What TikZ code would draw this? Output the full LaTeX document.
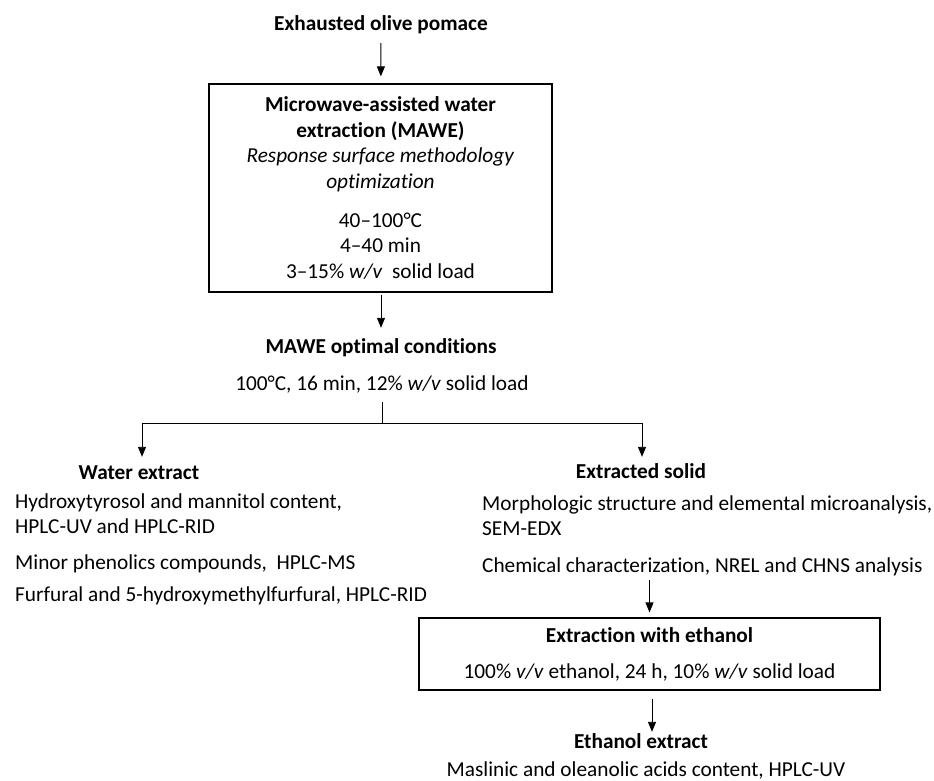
\documentclass[tikz,border=0pt]{standalone}
\usepackage{fontspec}
\setmainfont{Carlito}[Ligatures=CommonOff]
\usetikzlibrary{arrows.meta}
\begin{document}
\begin{tikzpicture}[x=1pt,y=-1pt,
  font=\fontsize{21.3}{25.5}\selectfont,
  txt/.style={inner sep=0pt, text height=15.5pt, text depth=4.5pt},
  hd/.style={txt, font=\fontsize{21.3}{25.5}\selectfont\bfseries},
  item/.style={txt, anchor=west},
  boxnode/.style={draw, line width=1.2pt, inner sep=0pt, align=center},
  arr/.style={line width=0.9pt, -{Triangle[length=10pt,width=8pt]}},
  ln/.style={line width=0.9pt}]
\useasboundingbox (0,0) rectangle (934,780);

% top
\node[hd] (top) at (381,25) {Exhausted olive pomace};
\node[boxnode, minimum width=343pt, minimum height=208pt] (box1) at (380.5,188)
  {\textbf{Microwave-assisted water}\\
   \textbf{extraction (MAWE)}\\
   \textit{Response surface methodology}\\
   \textit{optimization}\\[13.5pt]
   40–100°C\\
   4–40 min\\
   3–15\% \textit{w/v}\ \ solid load};
\node[hd] (opt) at (381,348) {MAWE optimal conditions};
\node[txt] (cond) at (382,385) {100°C, 16 min, 12\% \textit{w/v} solid load};

% split
\coordinate (J) at (382,423);
\coordinate (JL) at (142,423);
\coordinate (JR) at (642,423);

% left branch
\node[hd] (water) at (139,474) {Water extract};
\node[item] (w1) at (15,503) {Hydroxytyrosol and mannitol content,};
\node[item] (w2) at (15,528) {HPLC-UV and HPLC-RID};
\node[item] (w3) at (15,564) {Minor phenolics compounds,\ \ HPLC-MS};
\node[item] (w4) at (15,596) {Furfural and 5-hydroxymethylfurfural, HPLC-RID};

% right branch
\node[hd] (solid) at (641,473) {Extracted solid};
\node[item] (s1) at (482,505) {Morphologic structure and elemental microanalysis,};
\node[item] (s2) at (482,530) {SEM-EDX};
\node[item] (s3) at (482,567) {Chemical characterization, NREL and CHNS analysis};

\node[boxnode, minimum width=461pt, minimum height=72pt] (box2) at (649.5,654)
  {\textbf{Extraction with ethanol}\\[10.5pt]
   100\% \textit{v/v} ethanol, 24 h, 10\% \textit{w/v} solid load};

\node[hd] (ethx) at (641,743) {Ethanol extract};
\node[txt] (e1) at (646,771) {Maslinic and oleanolic acids content, HPLC-UV};

% connectors
\draw[arr, shorten <=8pt, shorten >=7pt] (top) -- (box1);
\draw[arr, shorten <=2pt, shorten >=10pt] (box1.south -| opt) -- (opt.north);
\draw[ln, shorten <=7pt] (cond.south -| J) -- (J);
\draw[ln] (JL) -- (JR);
\draw[arr, shorten >=7pt] (JL) -- (JL |- water.north);
\draw[arr, shorten >=6pt] (JR) -- (JR |- solid.north);
\draw[arr, shorten <=3pt, shorten >=5pt] (s3.south -| box2.north) -- (box2.north);
\draw[arr, shorten <=8pt, shorten >=1pt] ([xshift=2.5pt]box2.south) -- ([xshift=2.5pt]box2.south |- ethx.north);
\end{tikzpicture}
\end{document}
